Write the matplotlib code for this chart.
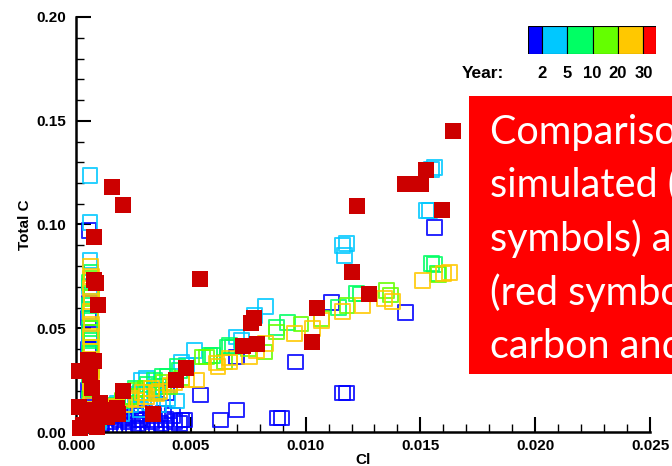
import matplotlib
matplotlib.use('Agg')
import matplotlib.pyplot as plt
from matplotlib.patches import Rectangle
from matplotlib.ticker import MultipleLocator, FormatStrFormatter

plt.rcParams['font.family'] = ['Liberation Sans', 'DejaVu Sans']
plt.rcParams['font.weight'] = 'bold'

# simulated values, one pair of lists per year
y2_x = [0.00057, 0.0006, 0.00055, 0.0006, 0.00055, 0.0006, 0.00055, 0.0006, 0.00055,
        0.0009, 0.0011, 0.0013, 0.0015, 0.0017, 0.0019, 0.0021, 0.0023, 0.0025, 0.0027,
        0.0029, 0.0031, 0.0033, 0.0035, 0.0037, 0.0039, 0.0041, 0.0043, 0.0045,
        0.0010, 0.0014, 0.0018, 0.0022, 0.0026, 0.0030, 0.0034, 0.0038, 0.0042,
        0.00261, 0.00278, 0.00343, 0.00396, 0.00352, 0.00461, 0.00474, 0.00543, 0.0063,
        0.0070, 0.0070, 0.00878, 0.00896, 0.00957, 0.01113, 0.01161, 0.01178, 0.01435, 0.01561]
y2_y = [0.0971, 0.062, 0.055, 0.047, 0.040, 0.030, 0.020, 0.012, 0.004,
        0.002, 0.004, 0.002, 0.005, 0.003, 0.006, 0.003, 0.005, 0.002, 0.004,
        0.006, 0.003, 0.005, 0.002, 0.004, 0.006, 0.003, 0.005, 0.004,
        0.006, 0.007, 0.008, 0.007, 0.008, 0.009, 0.008, 0.009, 0.008,
        0.0058, 0.0058, 0.0058, 0.0192, 0.0202, 0.0058, 0.0058, 0.0178, 0.0058,
        0.0106, 0.0361, 0.0067, 0.0067, 0.0337, 0.0625, 0.0188, 0.0188, 0.0577, 0.0986]

y5_x = [0.00061, 0.00061, 0.00061, 0.0006, 0.00058, 0.0006, 0.00058, 0.0006, 0.00058,
        0.0012, 0.0016, 0.0020, 0.0024, 0.0028, 0.0032, 0.0036, 0.0040, 0.0044,
        0.0010, 0.0014, 0.0018, 0.0022, 0.0026, 0.0034, 0.0038,
        0.00307, 0.00286, 0.00481, 0.00461, 0.00517, 0.00699, 0.00722, 0.00778, 0.00826,
        0.01161, 0.01178, 0.0117, 0.01526, 0.01539, 0.01548, 0.01561]
y5_y = [0.1236, 0.101, 0.0827, 0.070, 0.058, 0.045, 0.033, 0.015, 0.006,
        0.008, 0.011, 0.009, 0.013, 0.011, 0.014, 0.013, 0.016, 0.015,
        0.005, 0.009, 0.014, 0.016, 0.018, 0.020, 0.022,
        0.0258, 0.025, 0.0322, 0.0337, 0.0394, 0.0458, 0.0442, 0.0563, 0.0606,
        0.0899, 0.0909, 0.0851, 0.1067, 0.1067, 0.1264, 0.1274]

y10_x = [0.0006, 0.00065, 0.0006, 0.00065, 0.0006, 0.00065, 0.0006, 0.00065, 0.0006,
         0.00065, 0.0006, 0.00065, 0.0006, 0.00065,
         0.0010, 0.0014, 0.0018, 0.0026, 0.0031, 0.0036, 0.0040,
         0.0012, 0.0016, 0.0020, 0.00235, 0.0028, 0.00343, 0.00378, 0.00443, 0.00452,
         0.00583, 0.00596, 0.00661, 0.0067, 0.00683, 0.00874, 0.00922, 0.01144, 0.01222,
         0.0124, 0.01548, 0.01574, 0.0156]
y10_y = [0.005, 0.011, 0.016, 0.022, 0.027, 0.033, 0.038, 0.044, 0.050,
         0.055, 0.061, 0.066, 0.072, 0.077,
         0.007, 0.011, 0.013, 0.021, 0.023, 0.022, 0.027,
         0.010, 0.013, 0.015, 0.017, 0.019, 0.025, 0.0266, 0.0314, 0.0298,
         0.037, 0.037, 0.041, 0.0418, 0.0409, 0.0505, 0.0529, 0.0601, 0.0668,
         0.0665, 0.0813, 0.0764, 0.0808]

y20_x = [0.00062, 0.00066, 0.00062, 0.00066, 0.00062, 0.00066, 0.00062, 0.00066, 0.00062,
         0.0011, 0.0017, 0.0024, 0.0033, 0.0038,
         0.0014, 0.00204, 0.00264, 0.0030, 0.00409, 0.0046, 0.00552, 0.00568, 0.00648,
         0.0075, 0.00822, 0.00873, 0.0098, 0.01068, 0.0118, 0.01351, 0.0137, 0.0158]
y20_y = [0.006, 0.014, 0.021, 0.030, 0.039, 0.048, 0.057, 0.065, 0.074,
         0.008, 0.012, 0.017, 0.019, 0.024,
         0.011, 0.0154, 0.0202, 0.021, 0.0218, 0.026, 0.0362, 0.0362, 0.0338,
         0.040, 0.0386, 0.0482, 0.052, 0.0547, 0.061, 0.0683, 0.066, 0.076]

y30_x = [0.00062, 0.00068, 0.00062, 0.00068, 0.00062, 0.00068, 0.00062, 0.00068, 0.00062,
         0.00068, 0.00062, 0.00068, 0.00062, 0.00068, 0.00062,
         0.0012, 0.0015, 0.0021, 0.0024, 0.0029, 0.0033, 0.0043,
         0.0010, 0.00177, 0.00264, 0.00307, 0.00351, 0.00365, 0.00409, 0.00525, 0.00481,
         0.00612, 0.00618, 0.0067, 0.0067, 0.00757, 0.00786, 0.00826, 0.00952, 0.0103,
         0.0107, 0.0116, 0.01248, 0.01344, 0.0138, 0.01509, 0.016, 0.01626]
y30_y = [0.003, 0.008, 0.013, 0.018, 0.024, 0.029, 0.035, 0.041, 0.046,
         0.052, 0.058, 0.063, 0.069, 0.075, 0.080,
         0.009, 0.011, 0.013, 0.016, 0.019, 0.021, 0.024,
         0.0077, 0.0122, 0.0154, 0.017, 0.0186, 0.0194, 0.0226, 0.025, 0.025,
         0.0332, 0.0314, 0.0338, 0.0356, 0.0361, 0.0394, 0.0428, 0.0476, 0.050,
         0.0538, 0.058, 0.0611, 0.0644, 0.063, 0.0731, 0.0764, 0.0769]

# observed values
obs_x = [0.01644, 0.00157, 0.00204, 0.00078, 0.00539, 0.01222, 0.01435, 0.01504, 0.01526,
         0.01596, 0.01204, 0.01274, 0.01048, 0.01026, 0.00761, 0.00774, 0.00726, 0.00787,
         0.00478, 0.00435, 0.00335, 0.00204, 0.00078, 0.00087, 0.00096, 0.00052, 0.00078,
         0.00013, 0.00061, 0.0007, 0.00013, 0.00048, 0.00104, 0.00148, 0.00178, 0.00061,
         0.0003, 0.00091, 0.00017, 0.00183, 0.00133, 0.0009, 0.00161]
obs_y = [0.1452, 0.1183, 0.1096, 0.0938, 0.0736, 0.1087, 0.1197, 0.1197, 0.1264,
         0.1072, 0.0769, 0.0664, 0.0596, 0.0433, 0.0524, 0.0548, 0.0413, 0.0423,
         0.0308, 0.025, 0.0087, 0.0197, 0.0731, 0.0716, 0.0611, 0.0346, 0.0341,
         0.0293, 0.0274, 0.0212, 0.012, 0.0106, 0.0139, 0.0106, 0.0115, 0.0058,
         0.0034, 0.0024, 0.0019, 0.0087, 0.0074, 0.0091, 0.0106]

years = ['2', '5', '10', '20', '30']
year_colors = ['#0000FF', '#00C8FF', '#00FF64', '#64FF00', '#FFC800']
bar_colors = year_colors + ['#FF0000']

caption = ['Comparison of', 'simulated (colored', 'symbols) and observed',
           '(red symbols) total', 'carbon and Cl']

fig = plt.figure(figsize=(6.72, 4.66), dpi=100)
ax = fig.add_axes([76/672, 34/466, 574/672, 415/466])

series = [(y2_x, y2_y), (y5_x, y5_y), (y10_x, y10_y), (y20_x, y20_y), (y30_x, y30_y)]
for (sx, sy), c in zip(series, year_colors):
    ax.scatter(sx, sy, marker='s', s=112, facecolors='none', edgecolors=c,
               linewidths=1.4, alpha=0.85, zorder=2)
ax.scatter(obs_x, obs_y, marker='s', s=118, color='#CC0000', linewidths=0, zorder=3,
           clip_on=False)

ax.set_xlim(0, 0.025)
ax.set_ylim(0, 0.20)
ax.xaxis.set_major_locator(MultipleLocator(0.005))
ax.xaxis.set_minor_locator(MultipleLocator(0.001))
ax.yaxis.set_major_locator(MultipleLocator(0.05))
ax.yaxis.set_minor_locator(MultipleLocator(0.01))
ax.xaxis.set_major_formatter(FormatStrFormatter('%.3f'))
ax.yaxis.set_major_formatter(FormatStrFormatter('%.2f'))
ax.tick_params(which='major', direction='in', length=11, width=1.5, labelsize=11, pad=5)
ax.tick_params(which='minor', direction='in', length=6, width=1.0)
ax.tick_params(axis='y', which='major', pad=7)
for s in ['top', 'right']:
    ax.spines[s].set_visible(False)
for s in ['left', 'bottom']:
    ax.spines[s].set_linewidth(1.8)
ax.set_xlabel('Cl', fontsize=11, fontweight='bold', labelpad=0)
ax.set_ylabel('Total C', fontsize=11, fontweight='bold', labelpad=3)

# colour key for the years
cax = fig.add_axes([528/672, 412/466, 128/672, 28/466])
edges = [-0.55, 0, 1, 2, 3, 4]
widths = [0.55, 1, 1, 1, 1, 0.5]
cax.bar(edges, [1] * 6, width=widths, align='edge', color=bar_colors,
        edgecolor='black', linewidth=0.8)
cax.set_xlim(-0.55, 4.5)
cax.set_ylim(0, 1)
cax.axis('off')
for i, lab in enumerate(years):
    cax.text(i, -0.42, lab, ha='center', va='top', fontsize=12, fontweight='bold')
fig.text(462/672, 1 - 73/466, 'Year:', ha='left', va='center', fontsize=12.5,
         fontweight='bold')

# red caption box
fig.patches.append(Rectangle((469/672, 92/466), 0.4, 278/466, transform=fig.transFigure,
                             facecolor='#FF0000', edgecolor='none', zorder=5))
for i, line in enumerate(caption):
    fig.text(490/672, 1 - (144 + 53.5 * i)/466, line, ha='left', va='baseline',
             color='white', fontsize=28.5, family=['Lato', 'DejaVu Sans'],
             fontweight='normal', zorder=6)

fig.savefig('out.png', dpi=100)
